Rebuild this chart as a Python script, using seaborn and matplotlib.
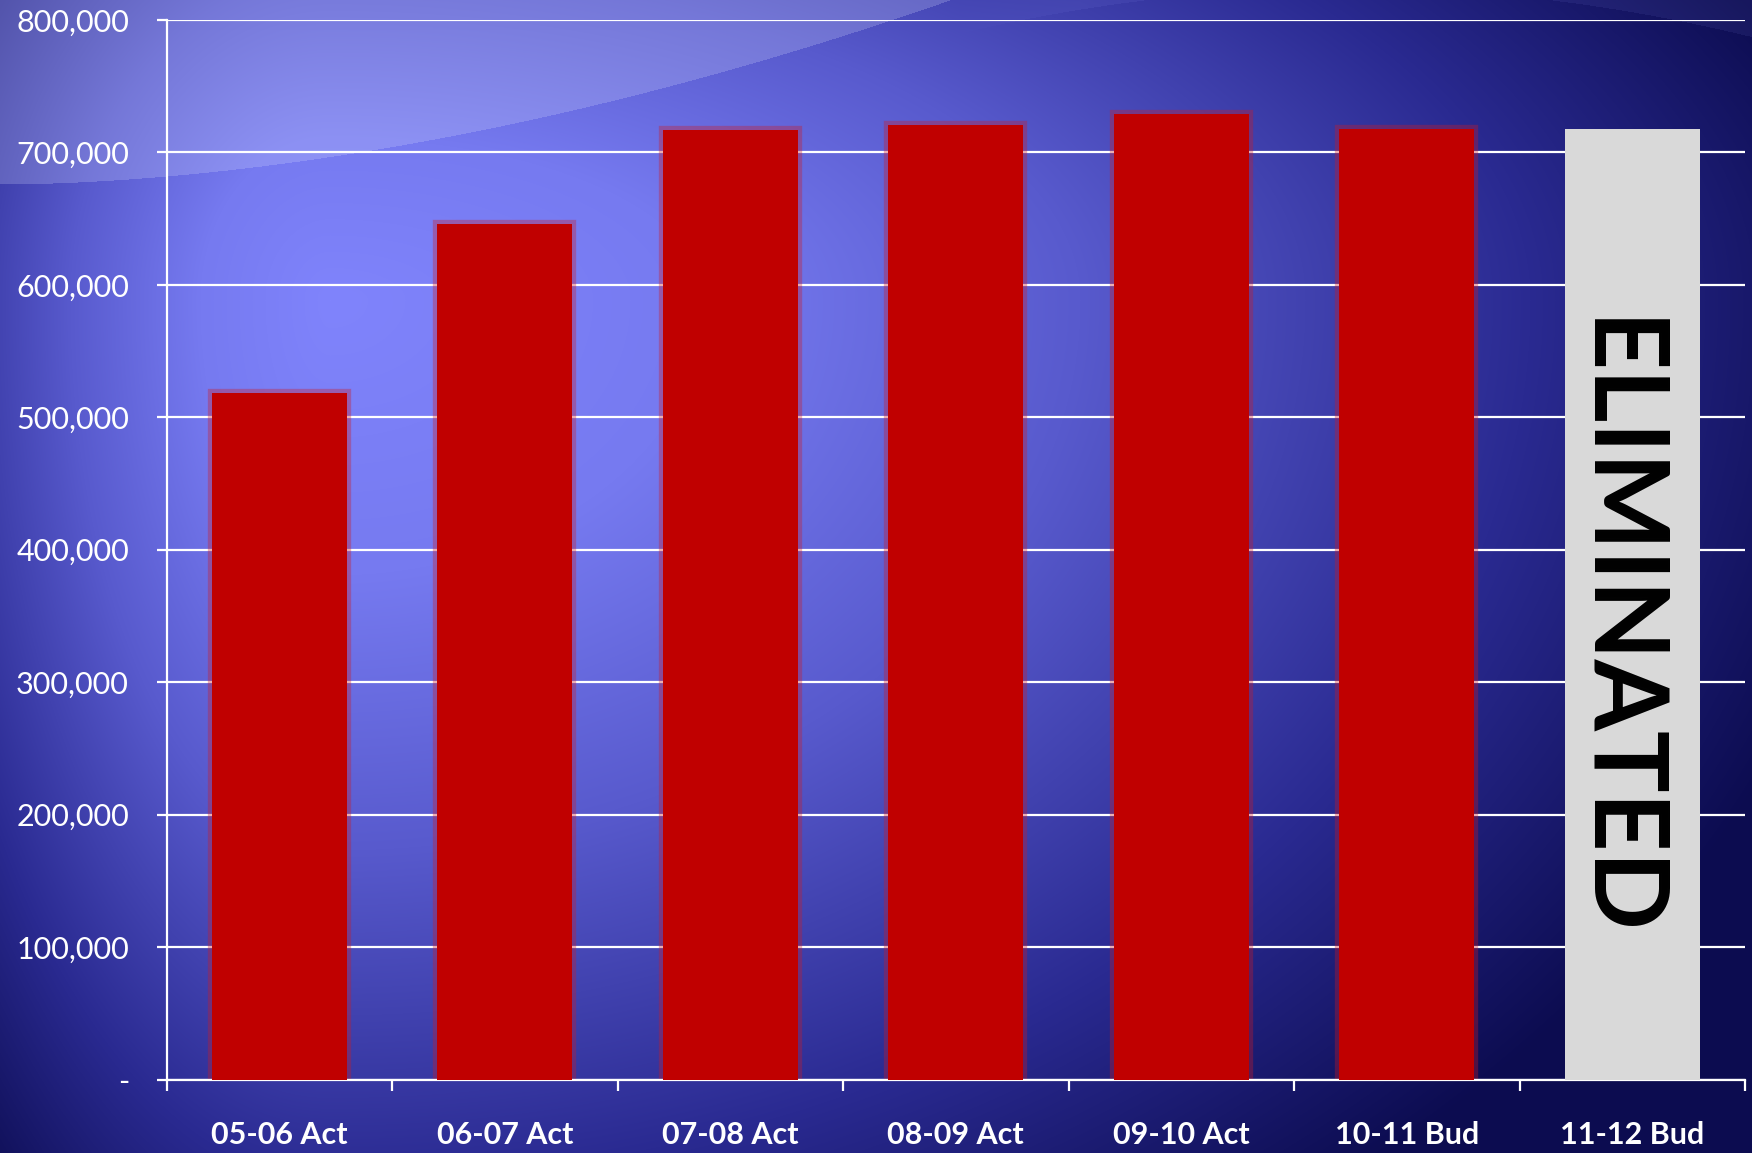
import numpy as np
import pandas as pd
import matplotlib
matplotlib.use("Agg")
import matplotlib.pyplot as plt
import seaborn as sns

# Budget by fiscal year
categories = ["05-06 Act", "06-07 Act", "07-08 Act", "08-09 Act",
              "09-10 Act", "10-11 Bud", "11-12 Bud"]
values = [518000, 646000, 717000, 721000, 729000, 718000, 718000]
bar_colors = ["#c00000"] * 6 + ["#d9d9d9"]
y_ticks = [0, 100000, 200000, 300000, 400000, 500000, 600000, 700000, 800000]
y_tick_labels = ["-", "100,000", "200,000", "300,000", "400,000",
                 "500,000", "600,000", "700,000", "800,000"]
eliminated_label = "ELIMINATED"

df = pd.DataFrame({"year": categories, "amount": values})

sns.set_theme(style="white")
plt.rcParams["font.family"] = ["Lato", "DejaVu Sans"]

W, H = 1752, 1153
fig = plt.figure(figsize=(W / 100, H / 100), dpi=100)

# ---- slide background: blue radial gradient with light swooshes ----
yy, xx = np.mgrid[0:H, 0:W].astype(float)
cx, cy = 330.0, 300.0
dx = xx - cx
dy = yy - cy
rx = np.where(dx < 0, 520.0, 1500.0)
ry = np.where(dy < 0, 650.0, 1100.0)
t = np.sqrt((dx / rx) ** 2 + (dy / ry) ** 2)

stops = [0.0, 0.25, 0.5, 0.8, 1.05]
reds = [128, 118, 88, 42, 12]
greens = [132, 122, 90, 42, 12]
blues = [252, 240, 205, 145, 80]
bg = np.stack([np.interp(t, stops, reds),
               np.interp(t, stops, greens),
               np.interp(t, stops, blues)], axis=-1) / 255.0

# swoosh arc at the top left
xs = xx / W
curve = np.where(xs < 0.542, 184 * (1 - np.clip(xs / 0.542, 0, 1) ** 1.8), -1)
above = yy < curve
bg = np.where(above[..., None], bg * 0.78 + 0.22 * np.array([0.86, 0.88, 1.0]), bg)

# faint arch along the top right, fading in from the left
arch = 3.02e-4 * (xx - 1144) * (xx - 1552)
fade = np.clip((xx - 960) / 120.0, 0, 1)
outside = ((yy < arch) & ~above).astype(float) * fade * 0.08
tint = np.array([0.6, 0.62, 1.0])
bg = bg * (1 - outside[..., None]) + tint * outside[..., None]

bg_ax = fig.add_axes([0, 0, 1, 1], zorder=-10)
bg_ax.imshow(np.clip(bg, 0, 1), aspect="auto", extent=[0, 1, 0, 1])
bg_ax.axis("off")

# ---- chart ----
ax = fig.add_axes([166.5 / W, 1 - 1079.5 / H, (1745 - 166.5) / W, (1079.5 - 20) / H])
ax.patch.set_alpha(0)

# soft glow around the bars
sns.barplot(data=df, x="year", y="amount", hue="year", palette=bar_colors,
            legend=False, width=0.6, ax=ax, zorder=2, saturation=1,
            edgecolor=(0.8, 0.1, 0.15, 0.35), linewidth=6)
sns.barplot(data=df, x="year", y="amount", hue="year", palette=bar_colors,
            legend=False, width=0.6, ax=ax, zorder=3, saturation=1,
            linewidth=0)
# the last bar has no glow
n = len(categories)
for p in ax.patches[n - 1:n]:
    p.set_edgecolor("none")

ax.set_xlim(-0.5, n - 0.5)
ax.set_ylim(0, 800000)
ax.set_yticks(y_ticks)
ax.set_yticklabels(y_tick_labels)
ax.yaxis.grid(True, color="white", linewidth=1.6, zorder=1)
ax.set_axisbelow(True)
ax.set_xlabel("")
ax.set_ylabel("")

for side in ["top", "right"]:
    ax.spines[side].set_visible(False)
for side in ["left", "bottom"]:
    ax.spines[side].set_color("white")
    ax.spines[side].set_linewidth(1.6)

ax.tick_params(axis="y", colors="white", labelsize=22, length=7, width=1.6,
               pad=20, direction="out", left=True)
ax.set_xticks(range(n))
ax.set_xticklabels(categories, fontweight="bold")
ax.tick_params(axis="x", which="major", colors="white", labelsize=22,
               length=0, pad=30)
ax.set_xticks(np.arange(-0.5, n, 1.0), minor=True)
ax.tick_params(axis="x", which="minor", color="white", length=8, width=1.6,
               bottom=True, direction="out")

ax.text(n - 1 - 0.07, values[-1] * 0.475, eliminated_label, rotation=270,
        ha="center", va="center", fontsize=74, fontweight="bold",
        color="black", zorder=5)

fig.savefig("out.png", dpi=100)
